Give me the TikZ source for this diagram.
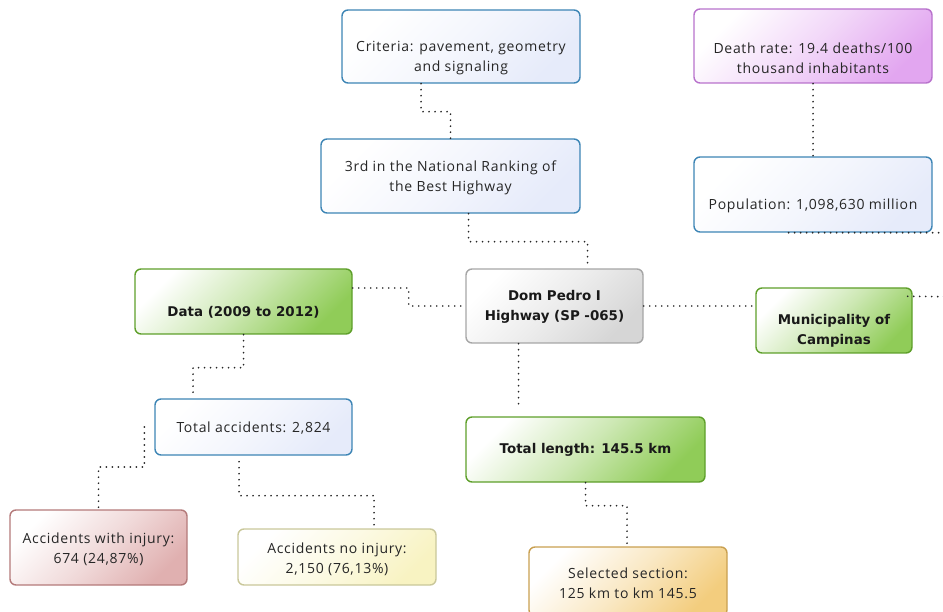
\documentclass[tikz,border=0pt]{standalone}
\usepackage{fontspec}
\setmainfont{Open Sans}[LetterSpace=5]
\newfontfamily\bfnt{DejaVu Sans}
\definecolor{bluebd}{HTML}{3D85B5}
\definecolor{bluebg}{HTML}{E6EBFA}
\definecolor{purpbd}{HTML}{B872CC}
\definecolor{purpbg}{HTML}{E2A6F0}
\definecolor{grnbd}{HTML}{5E9F2A}
\definecolor{grnbg}{HTML}{90CC58}
\definecolor{graybd}{HTML}{A6A6A6}
\definecolor{graybg}{HTML}{D6D6D6}
\definecolor{redbd}{HTML}{B47A7A}
\definecolor{redbg}{HTML}{E0B0B0}
\definecolor{yelbd}{HTML}{C9C79A}
\definecolor{yelbg}{HTML}{F8F3C2}
\definecolor{orgbd}{HTML}{C9A050}
\definecolor{orgbg}{HTML}{F3CD7E}
\begin{document}
\begin{tikzpicture}[x=1pt,y=-1pt,
  box/.style={rounded corners=6pt, line width=1.4pt, inner sep=0pt},
  mkbox/.style 2 args={box, draw=#1, top color=white, bottom color=#2, middle color=#2!45!white, shading angle=45},
  bluebox/.style={mkbox={bluebd}{bluebg}},
  purpbox/.style={mkbox={purpbd}{purpbg}},
  grnbox/.style={mkbox={grnbd}{grnbg}},
  graybox/.style={mkbox={graybd}{graybg}},
  redbox/.style={mkbox={redbd}{redbg}},
  yelbox/.style={mkbox={yelbd}{yelbg}},
  orgbox/.style={mkbox={orgbd}{orgbg}},
  conn/.style={line width=1.9pt, line cap=round, dash pattern=on 0pt off 6pt, black!85},
  txt/.style={align=center, inner sep=0pt, text=black!85, font=\fontsize{14}{20}\selectfont},
  btxt/.style={align=center, inner sep=0pt, text=black!90, font=\bfnt\bfseries\fontsize{13.4}{20}\selectfont}]
\useasboundingbox (0,0) rectangle (943,612);
\clip (0,0) rectangle (943,612);

% boxes
\node[bluebox, minimum width=238pt, minimum height=73pt] (crit) at (461,46.5) {};
\node[bluebox, minimum width=259pt, minimum height=74pt] (rank) at (450.5,176) {};
\node[purpbox, minimum width=238pt, minimum height=74pt] (death) at (813,46) {};
\node[bluebox, minimum width=238pt, minimum height=75pt] (pop) at (813,194.5) {};
\node[grnbox, minimum width=217pt, minimum height=65pt] (data) at (243.5,301.5) {};
\node[graybox, minimum width=177pt, minimum height=74pt] (dom) at (554.5,306) {};
\node[grnbox, minimum width=156pt, minimum height=65pt] (muni) at (834,320.5) {};
\node[bluebox, minimum width=197pt, minimum height=56pt] (acc) at (253.5,427) {};
\node[grnbox, minimum width=239pt, minimum height=65pt] (len) at (585.5,449.5) {};
\node[redbox, minimum width=177pt, minimum height=75pt] (inj) at (98.5,547.5) {};
\node[yelbox, minimum width=198pt, minimum height=56pt] (noinj) at (337,557) {};
\node[orgbox, minimum width=198pt, minimum height=69pt] (sel) at (628,581.5) {};

% texts
\node[txt] (crit-t) at (461,58) {Criteria: pavement, geometry\\and signaling};
\node[txt] (rank-t) at (450.5,178) {3rd in the National Ranking of\\the Best Highway};
\node[txt] (death-t) at (813,58) {Death rate: 19.4 deaths/100\\thousand inhabitants};
\node[txt] (pop-t) at (813,206) {Population: 1,098,630 million};
\node[btxt] (data-t) at (243.5,312) {Data (2009 to 2012)};
\node[btxt] (dom-t) at (554.5,306.5) {Dom Pedro I\\Highway (SP -065)};
\node[btxt] (muni-t) at (834,331) {Municipality of\\Campinas};
\node[txt] (acc-t) at (253.5,428) {Total accidents: 2,824};
\node[btxt] (len-t) at (585.5,450) {Total length: 145.5 km};
\node[txt] (inj-t) at (98.5,549.5) {Accidents with injury:\\674 (24,87\%)};
\node[txt] (noinj-t) at (337,559) {Accidents no injury:\\2,150 (76,13\%)};
\node[txt] (sel-t) at (628,583) {Selected section:\\125 km to km 145.5};

% connectors
\coordinate (offright) at (975,297);
\draw[conn] ([xshift=-40pt]crit.south) -- ++(0,28) -| (rank.north);
\draw[conn] ([xshift=18pt]rank.south) -- ++(0,28) -| ([xshift=33pt]dom.north);
\draw[conn] (death.south) -- (pop.north);
\draw[conn] ([xshift=-5pt,yshift=-9pt]muni.north east) -- (offright) |- ([xshift=-26pt]pop.south);
\draw[conn] ([yshift=13.5pt]data.east) -- ++(56,0) |- (dom.west);
\draw[conn] (dom.east) -- (dom.east -| muni.west);
\draw[conn, shorten >=10pt] ([xshift=-36pt]dom.south) -- ([xshift=-36pt]dom.south |- len.north);
\draw[conn, shorten >=6pt] (data.south) -- ++(0,33) -| ([xshift=-60.5pt]acc.north);
\draw[conn] ([xshift=-10pt]acc.west) -- ++(0,40) -| (inj.north);
\draw[conn] ([xshift=-14.5pt,yshift=-6pt]acc.south) -- ++(0,34) -| ([xshift=37pt]noinj.north);
\draw[conn] (len.south) -- ++(0,23) -| ([xshift=-1pt]sel.north);
\end{tikzpicture}
\end{document}
